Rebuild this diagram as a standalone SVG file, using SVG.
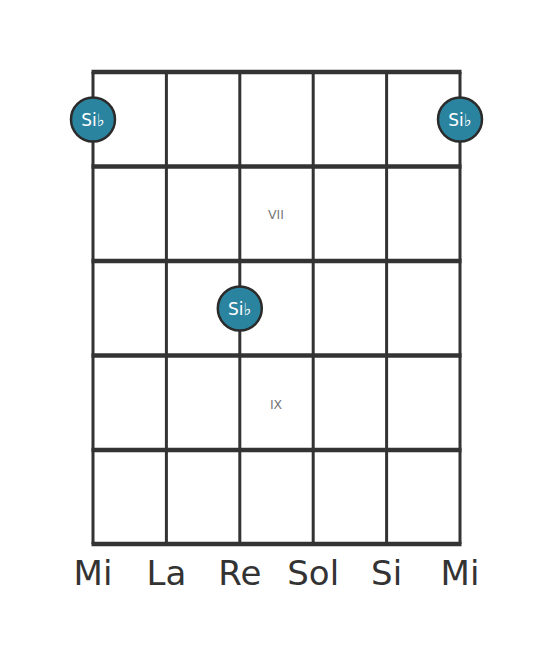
<svg xmlns="http://www.w3.org/2000/svg" width="553" height="656" viewBox="0 0 553 656">
<style>
.fret{stroke:#333;stroke-width:4.5;stroke-linecap:butt}
.str{stroke:#333;stroke-width:3}
.dot{fill:#2a84a0;stroke:#2b2b2b;stroke-width:2.5}
.nt{font-family:"DejaVu Sans",sans-serif;font-size:17px;fill:#fff;text-anchor:middle}
.fl{font-size:17px}
.pos{font-family:"DejaVu Sans",sans-serif;font-size:12.5px;fill:#777;text-anchor:middle}
.sn{font-family:"DejaVu Sans",sans-serif;font-size:34px;fill:#333;text-anchor:middle}
</style>
<rect width="553" height="656" fill="#fff"/>
<g id="connectors">
<line class="str" x1="93" y1="72" x2="93" y2="544"/>
<line class="str" x1="166.4" y1="72" x2="166.4" y2="544"/>
<line class="str" x1="239.8" y1="72" x2="239.8" y2="544"/>
<line class="str" x1="313.2" y1="72" x2="313.2" y2="544"/>
<line class="str" x1="386.6" y1="72" x2="386.6" y2="544"/>
<line class="str" x1="460" y1="72" x2="460" y2="544"/>
<line class="fret" x1="91.5" y1="72" x2="461.5" y2="72"/>
<line class="fret" x1="91.5" y1="166.5" x2="461.5" y2="166.5"/>
<line class="fret" x1="91.5" y1="261" x2="461.5" y2="261"/>
<line class="fret" x1="91.5" y1="355.5" x2="461.5" y2="355.5"/>
<line class="fret" x1="91.5" y1="450" x2="461.5" y2="450"/>
<line class="fret" x1="91.5" y1="544" x2="461.5" y2="544"/>
</g>
<g id="pos7"><text class="pos" x="276" y="219">VII</text></g>
<g id="pos9"><text class="pos" x="276" y="409">IX</text></g>
<g id="n1"><circle class="dot" cx="93" cy="119.5" r="22"/><text class="nt" x="93" y="125.5">Si<tspan class="fl">♭</tspan></text></g>
<g id="n2"><circle class="dot" cx="460" cy="119.5" r="22"/><text class="nt" x="460" y="125.5">Si<tspan class="fl">♭</tspan></text></g>
<g id="n3"><circle class="dot" cx="239.8" cy="308.5" r="22"/><text class="nt" x="239.8" y="314.5">Si<tspan class="fl">♭</tspan></text></g>
<g id="labels">
<text class="sn" x="93" y="585">Mi</text>
<text class="sn" x="166.4" y="585">La</text>
<text class="sn" x="239.8" y="585">Re</text>
<text class="sn" x="313.2" y="585">Sol</text>
<text class="sn" x="386.6" y="585">Si</text>
<text class="sn" x="460" y="585">Mi</text>
</g>
</svg>
